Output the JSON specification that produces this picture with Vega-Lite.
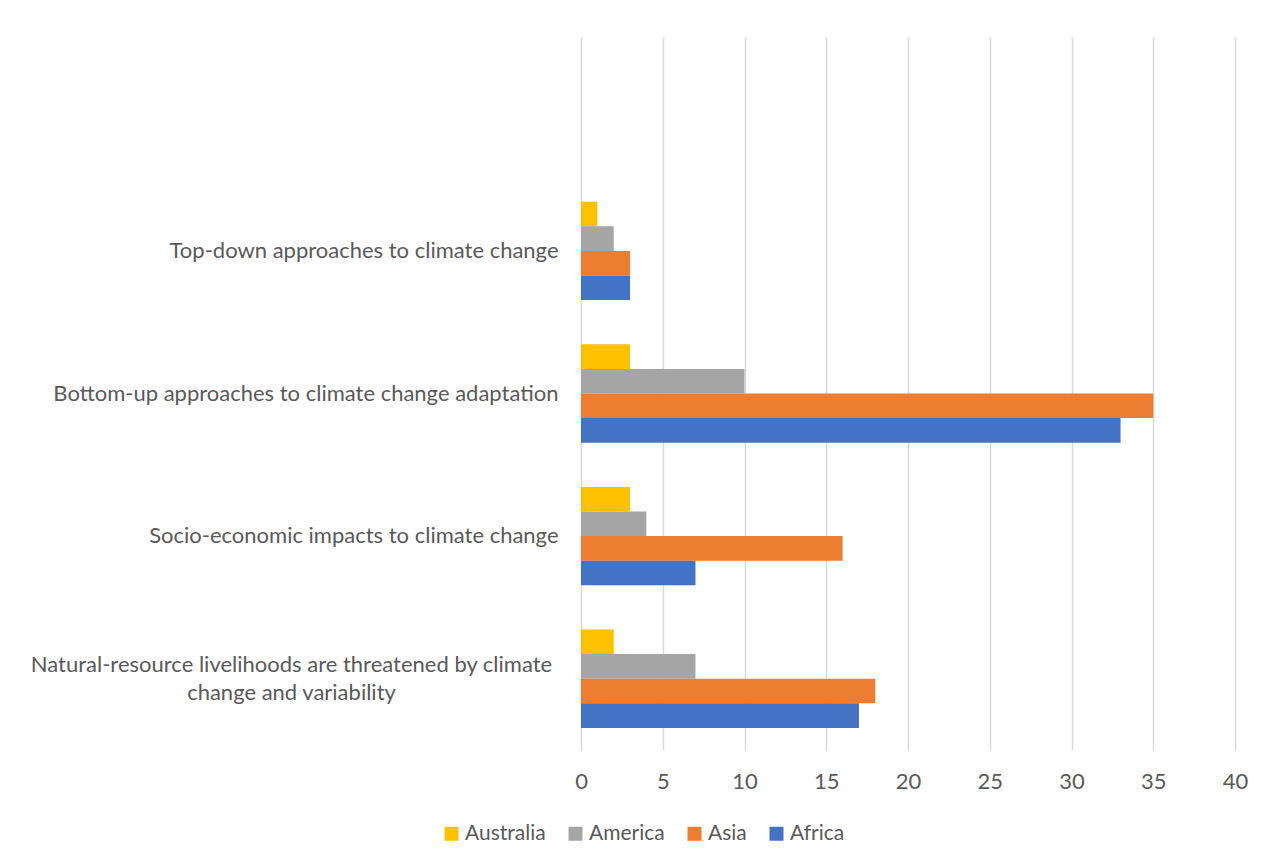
{
  "$schema": "https://vega.github.io/schema/vega-lite/v6.json",
  "autosize": "none",
  "width": 654,
  "height": 713,
  "padding": {"left": 581, "top": 37, "right": 44, "bottom": 118},
  "background": "#ffffff",
  "config": {
    "font": "Lato",
    "view": {"stroke": null}
  },
  "data": {
    "values": [
      {"category": "Top-down approaches to climate change", "region": "Australia", "value": 1},
      {"category": "Top-down approaches to climate change", "region": "America", "value": 2},
      {"category": "Top-down approaches to climate change", "region": "Asia", "value": 3},
      {"category": "Top-down approaches to climate change", "region": "Africa", "value": 3},
      {"category": "Bottom-up approaches to climate change adaptation", "region": "Australia", "value": 3},
      {"category": "Bottom-up approaches to climate change adaptation", "region": "America", "value": 10},
      {"category": "Bottom-up approaches to climate change adaptation", "region": "Asia", "value": 35},
      {"category": "Bottom-up approaches to climate change adaptation", "region": "Africa", "value": 33},
      {"category": "Socio-economic impacts to climate change", "region": "Australia", "value": 3},
      {"category": "Socio-economic impacts to climate change", "region": "America", "value": 4},
      {"category": "Socio-economic impacts to climate change", "region": "Asia", "value": 16},
      {"category": "Socio-economic impacts to climate change", "region": "Africa", "value": 7},
      {"category": "Natural-resource livelihoods are threatened by climate change and variability", "region": "Australia", "value": 2},
      {"category": "Natural-resource livelihoods are threatened by climate change and variability", "region": "America", "value": 7},
      {"category": "Natural-resource livelihoods are threatened by climate change and variability", "region": "Asia", "value": 18},
      {"category": "Natural-resource livelihoods are threatened by climate change and variability", "region": "Africa", "value": 17}
    ]
  },
  "mark": {"type": "bar"},
  "encoding": {
    "y": {
      "field": "category",
      "type": "nominal",
      "scale": {
        "domain": ["", "Top-down approaches to climate change", "Bottom-up approaches to climate change adaptation", "Socio-economic impacts to climate change", "Natural-resource livelihoods are threatened by climate change and variability"],
        "paddingInner": 0.31,
        "paddingOuter": 0.155
      },
      "axis": {
        "title": null,
        "domain": false,
        "ticks": false,
        "labelFontSize": 22,
        "labelColor": "#595959",
        "labelPadding": {"condition": {"test": "datum.value == 'Natural-resource livelihoods are threatened by climate change and variability'", "value": 290}, "value": 23},
        "labelAlign": {"condition": {"test": "datum.value == 'Natural-resource livelihoods are threatened by climate change and variability'", "value": "center"}, "value": "right"},
        "labelOffset": {"condition": {"test": "datum.value == 'Natural-resource livelihoods are threatened by climate change and variability'", "value": -14}, "value": 0},
        "labelLimit": 0,
        "labelLineHeight": 28,
        "labelExpr": "datum.label == 'Natural-resource livelihoods are threatened by climate change and variability' ? ['Natural-resource livelihoods are threatened by climate', 'change and variability'] : datum.label"
      }
    },
    "yOffset": {
      "field": "region",
      "type": "nominal",
      "sort": ["Australia", "America", "Asia", "Africa"],
      "scale": {"paddingInner": 0, "paddingOuter": 0}
    },
    "x": {
      "field": "value",
      "type": "quantitative",
      "scale": {"domain": [0, 40], "nice": false},
      "axis": {
        "title": null,
        "values": [0, 5, 10, 15, 20, 25, 30, 35, 40],
        "domain": false,
        "ticks": false,
        "grid": true,
        "gridColor": "#d9d9d9",
        "gridWidth": 1.5,
        "labelFontSize": 22,
        "labelColor": "#595959",
        "labelPadding": 21,
        "labelFlush": false
      }
    },
    "color": {
      "field": "region",
      "type": "nominal",
      "scale": {
        "domain": ["Australia", "America", "Asia", "Africa"],
        "range": ["#FFC000", "#A5A5A5", "#ED7D31", "#4472C4"]
      },
      "legend": {
        "title": null,
        "orient": "none",
        "direction": "horizontal",
        "legendX": -140,
        "legendY": 786,
        "symbolType": "square",
        "symbolSize": 196,
        "symbolStrokeWidth": 0,
        "symbolOpacity": 1,
        "labelFontSize": 21,
        "labelColor": "#595959",
        "labelOffset": 3,
        "columnPadding": 19
      }
    }
  }
}
